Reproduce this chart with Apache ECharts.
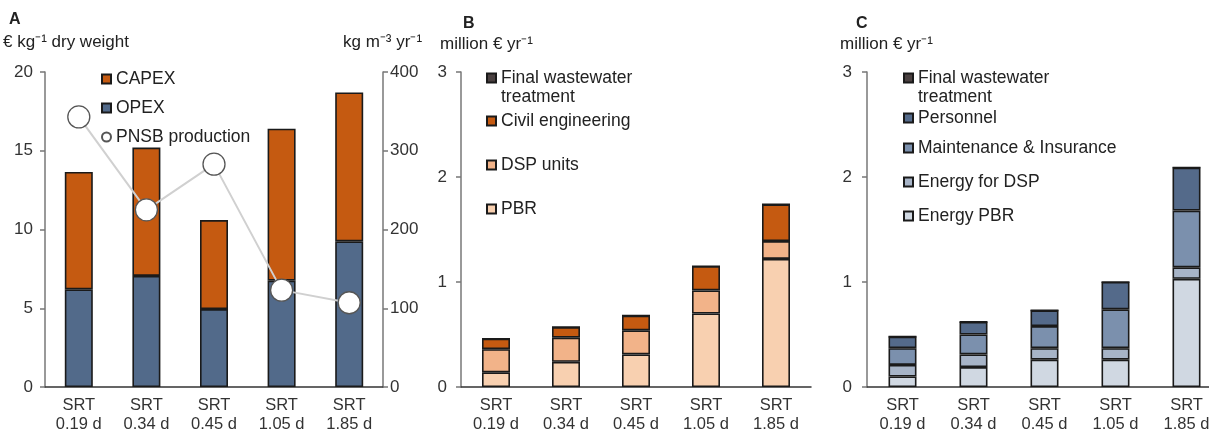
<!DOCTYPE html>
<html>
<head>
<meta charset="utf-8">
<script src="https://cdn.jsdelivr.net/npm/echarts@6/dist/echarts.min.js"></script>
<style>
    html, body { margin: 0; padding: 0; background: #fff; }
    #main { width: 1209px; height: 436px; }
</style>
</head>
<body>
<div id="main"></div>
<script>
// 数据
let categories = ['SRT\n0.19 d', 'SRT\n0.34 d', 'SRT\n0.45 d', 'SRT\n1.05 d', 'SRT\n1.85 d'];

// A: € kg-1 dry weight
let opex = [6.2, 7.05, 4.95, 6.75, 9.25];
let capex = [7.45, 8.15, 5.65, 9.65, 9.45];
let pnsb = [343, 225, 283, 123, 107];

// B: million € yr-1
let bPbr = [0.14, 0.24, 0.31, 0.70, 1.22];
let bDsp = [0.22, 0.23, 0.23, 0.22, 0.17];
let bCivil = [0.10, 0.10, 0.14, 0.23, 0.35];
let bFinal = [0, 0, 0, 0, 0];

// C: million € yr-1
let cEnergyPbr = [0.10, 0.19, 0.26, 0.26, 1.03];
let cEnergyDsp = [0.11, 0.12, 0.11, 0.11, 0.11];
let cMaint = [0.16, 0.19, 0.21, 0.37, 0.54];
let cPersonnel = [0.11, 0.12, 0.15, 0.26, 0.41];
let cFinal = [0, 0, 0, 0, 0];

let font = 'Liberation Sans, Arial, sans-serif';
let txt = '#333';

let myChart = echarts.init(document.getElementById('main'));

function xAxisCfg(grid) {
    return {
        type: 'category',
        gridIndex: grid,
        data: categories,
        axisTick: {show: false},
        axisLine: {lineStyle: {color: '#333', width: 1.5}},
        axisLabel: {color: txt, fontSize: 16.5, fontFamily: font, lineHeight: 19, margin: 9, interval: 0}
    };
}

function yAxisCfg(grid, max, interval, margin, pos) {
    return {
        type: 'value',
        gridIndex: grid,
        position: pos || 'left',
        min: 0,
        max: max,
        interval: interval,
        splitLine: {show: false},
        axisLine: {show: true, lineStyle: {color: '#777', width: 1.5}},
        axisTick: {show: true, length: 5, lineStyle: {color: '#777', width: 1.5}},
        axisLabel: {color: txt, fontSize: 17, fontFamily: font, margin: margin}
    };
}

function barSeries(name, data, color, x, y) {
    return {
        name: name,
        type: 'bar',
        xAxisIndex: x,
        yAxisIndex: y,
        stack: 's' + x,
        barWidth: 28,
        data: data,
        itemStyle: {color: color, borderColor: '#1a1a1a', borderWidth: 1.6}
    };
}

function legendItem(name, left, top, icon) {
    let lg = {
        data: [name],
        left: left,
        top: top,
        padding: 0,
        itemWidth: 9,
        itemHeight: 9,
        icon: icon || 'rect',
        selectedMode: false,
        textStyle: {color: '#222', fontSize: 17.5, fontFamily: font, lineHeight: 19}
    };
    if (name === 'Final wastewater treatment') {
        lg.formatter = function () {
            return '\nFinal wastewater\ntreatment';
        };
    }
    return lg;
}

let option = {
    backgroundColor: '#fff',
    animation: false,
    grid: [
        {left: 45, top: 72, width: 338, height: 315, outerBoundsMode: 'none'},
        {left: 461, top: 72, width: 350, height: 315, outerBoundsMode: 'none'},
        {left: 867, top: 72, width: 355, height: 315, outerBoundsMode: 'none'}
    ],
    xAxis: [xAxisCfg(0), xAxisCfg(1), xAxisCfg(2)],
    yAxis: [
        yAxisCfg(0, 20, 5, 12),
        yAxisCfg(0, 400, 100, 7, 'right'),
        yAxisCfg(1, 3, 1, 14),
        yAxisCfg(2, 3, 1, 15)
    ],
    legend: [
        legendItem('CAPEX', 101, 69.5),
        legendItem('OPEX', 101, 98.5),
        legendItem('PNSB production', 101, 127.5, 'circle'),
        legendItem('Final wastewater treatment', 486, 49.5),
        legendItem('Civil engineering', 486, 111.5),
        legendItem('DSP units', 486, 155.5),
        legendItem('PBR', 486, 199.5),
        legendItem('Final wastewater treatment', 903, 49.5),
        legendItem('Personnel', 903, 108.5),
        legendItem('Maintenance & Insurance', 903, 138.5),
        legendItem('Energy for DSP', 903, 172.5),
        legendItem('Energy PBR', 903, 206.5)
    ],
    graphic: [
        {type: 'text', left: 9, top: 12, style: {text: 'A', font: 'bold 16px ' + font, fill: '#222'}},
        {type: 'text', left: 3, top: 34, style: {text: '€ kg⁻¹ dry weight', font: '17px ' + font, fill: '#222'}},
        {type: 'text', left: 343, top: 34, style: {text: 'kg m⁻³ yr⁻¹', font: '17px ' + font, fill: '#222'}},
        {type: 'text', left: 463, top: 16, style: {text: 'B', font: 'bold 16px ' + font, fill: '#222'}},
        {type: 'text', left: 440, top: 36, style: {text: 'million € yr⁻¹', font: '17px ' + font, fill: '#222'}},
        {type: 'text', left: 856, top: 16, style: {text: 'C', font: 'bold 16px ' + font, fill: '#222'}},
        {type: 'text', left: 840, top: 36, style: {text: 'million € yr⁻¹', font: '17px ' + font, fill: '#222'}}
    ],
    series: [
        barSeries('OPEX', opex, '#526a8a', 0, 0),
        barSeries('CAPEX', capex, '#c55a11', 0, 0),
        {
            name: 'PNSB production',
            type: 'line',
            xAxisIndex: 0,
            yAxisIndex: 1,
            data: pnsb,
            symbol: 'circle',
            symbolSize: 22,
            z: 5,
            lineStyle: {color: '#d0d0d0', width: 2},
            itemStyle: {color: '#fff', borderColor: '#555', borderWidth: 1.3}
        },
        barSeries('PBR', bPbr, '#f8d0b0', 1, 2),
        barSeries('DSP units', bDsp, '#f2b389', 1, 2),
        barSeries('Civil engineering', bCivil, '#c55a11', 1, 2),
        barSeries('Final wastewater treatment', bFinal, '#4a4040', 1, 2),
        barSeries('Energy PBR', cEnergyPbr, '#d0d8e2', 2, 3),
        barSeries('Energy for DSP', cEnergyDsp, '#a7b4c7', 2, 3),
        barSeries('Maintenance & Insurance', cMaint, '#7b90ad', 2, 3),
        barSeries('Personnel', cPersonnel, '#546a8a', 2, 3),
        barSeries('Final wastewater treatment', cFinal, '#3a4454', 2, 3)
    ]
};
myChart.setOption(option);
</script>
</body>
</html>
